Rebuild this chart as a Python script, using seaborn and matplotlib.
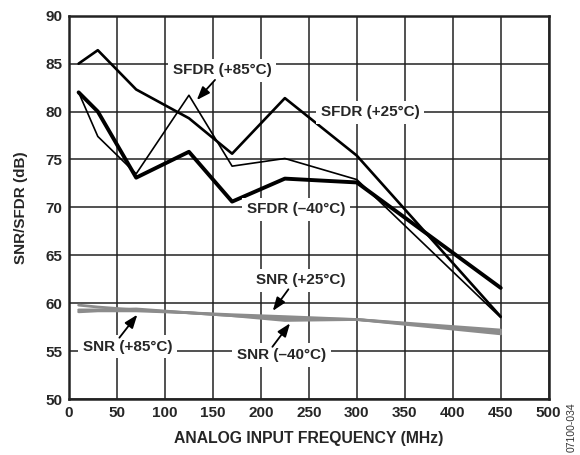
import matplotlib
matplotlib.use("Agg")
import matplotlib.pyplot as plt
import seaborn as sns
import pandas as pd

freq = [10, 30, 70, 125, 170, 225, 300, 450]
sfdr_25 = [85.0, 86.4, 82.3, 79.3, 75.6, 81.4, 75.4, 58.6]
sfdr_85 = [82.0, 77.4, 73.5, 81.7, 74.3, 75.1, 72.9, 58.5]
sfdr_m40 = [82.0, 80.0, 73.1, 75.8, 70.6, 73.0, 72.6, 61.6]
snr_25 = [59.3, 59.3, 59.4, 59.0, 58.8, 58.6, 58.3, 57.2]
snr_85 = [59.8, 59.6, 59.3, 59.0, 58.7, 58.4, 58.3, 56.8]
snr_m40 = [59.1, 59.2, 59.2, 59.0, 58.7, 58.2, 58.3, 57.0]

x_ticks = [0, 50, 100, 150, 200, 250, 300, 350, 400, 450, 500]
y_ticks = [50, 55, 60, 65, 70, 75, 80, 85, 90]

sns.set_style("white")
plt.rcParams['font.family'] = ['Liberation Sans', 'DejaVu Sans']

fig = plt.figure(figsize=(5.8, 4.55), dpi=100)
ax = fig.add_axes([0.119, 0.123, 0.827, 0.8425])

gray = "#8c8c8c"
series = [
    (snr_25, gray, 2.0),
    (snr_85, gray, 2.0),
    (snr_m40, gray, 2.0),
    (sfdr_25, "black", 1.9),
    (sfdr_85, "black", 1.2),
    (sfdr_m40, "black", 2.8),
]
for vals, col, lw in series:
    df = pd.DataFrame({"f": freq, "v": vals})
    sns.lineplot(data=df, x="f", y="v", ax=ax, color=col, linewidth=lw, zorder=3)

ax.set_xlim(0, 500)
ax.set_ylim(50, 90)
ax.set_xticks(x_ticks)
ax.set_yticks(y_ticks)
ax.grid(True, color="#222222", linewidth=1.1, zorder=0)
ax.set_axisbelow(True)
ax.tick_params(length=0, labelsize=11, pad=5)
for lab in ax.get_xticklabels() + ax.get_yticklabels():
    lab.set_fontweight("bold")
for s in ax.spines.values():
    s.set_linewidth(1.8)
    s.set_color("#222222")
ax.set_xlabel("ANALOG INPUT FREQUENCY (MHz)", fontsize=11.3, fontweight="bold", labelpad=8)
ax.set_ylabel("SNR/SFDR (dB)", fontsize=11, fontweight="bold", labelpad=12)

bbox = dict(boxstyle="square,pad=0.3", fc="white", ec="none")
tk = dict(fontsize=11, fontweight="bold", ha="center", va="center", bbox=bbox, zorder=5)
akw = dict(arrowstyle="-|>,head_length=0.8,head_width=0.3", color="black", lw=1.3,
           shrinkA=0, shrinkB=0)

ax.text(159.5, 84.3, "SFDR (+85°C)", **tk)
ax.text(314, 79.9, "SFDR (+25°C)", **tk)
ax.text(236.7, 69.8, "SFDR (\u201340°C)", **tk)
ax.text(241.7, 62.4, "SNR (+25°C)", **tk)
ax.text(61, 55.45, "SNR (+85°C)", **tk)
ax.text(221.4, 54.6, "SNR (\u201340°C)", **tk)

arrows = [
    ((152.2, 83.3), (133.2, 81.2)),
    ((228.7, 61.45), (212.4, 59.2)),
    ((52.5, 56.4), (71.2, 58.8)),
    ((212.0, 55.45), (230.4, 57.9)),
]
for tail, tip in arrows:
    ax.annotate("", xy=tip, xytext=tail, arrowprops=akw, zorder=6)

fig.text(0.985, 0.061, "07100-034", rotation=90, fontsize=7.5, ha="center", va="center", color="#333333")

fig.savefig("out.png", dpi=100)
